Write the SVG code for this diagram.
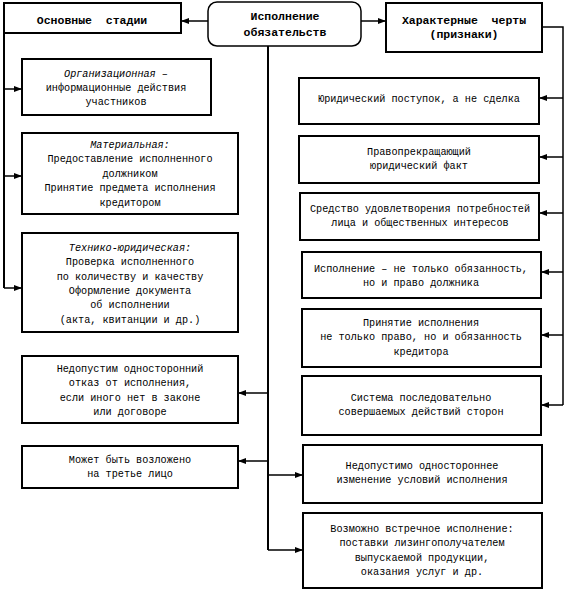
<svg xmlns="http://www.w3.org/2000/svg" width="567" height="592" viewBox="0 0 567 592">
<defs>
<marker id="ah" viewBox="0 0 8 6" refX="8" refY="3" markerWidth="8" markerHeight="6" markerUnits="userSpaceOnUse" orient="auto"><path d="M0,0 L8,3 L0,6 Z" fill="#000"/></marker>
</defs>
<style>
.b{fill:#fff;stroke:#000;stroke-width:2}
.t{font-family:"Liberation Mono","Courier New",monospace;font-size:10.2px;text-anchor:middle;fill:#000}
.h{font-family:"Liberation Mono","Courier New",monospace;font-size:11.5px;font-weight:bold;text-anchor:middle;fill:#000}
.i{font-style:italic}
.c{fill:none;stroke:#000;stroke-width:2}
.a{fill:none;stroke:#000;stroke-width:1.5;marker-end:url(#ah)}
</style>
<rect width="567" height="592" fill="#fff"/>
<g id="connectors">
<path class="a" d="M208,21 H181"/>
<path class="a" d="M361,21 H386"/>
<path class="c" d="M4,33 V288"/>
<path class="a" d="M4,89 H22"/>
<path class="a" d="M4,176 H22"/>
<path class="a" d="M4,288 H22"/>
<path class="c" d="M268,46 V550"/>
<path class="a" d="M268,393 H238"/>
<path class="a" d="M268,461 H238"/>
<path class="a" d="M268,475 H303"/>
<path class="a" d="M268,550 H303"/>
<path class="c" style="stroke-width:1.5" d="M542,27 H563 V405"/>
<path class="a" d="M563,98 H539"/>
<path class="a" d="M563,157 H539"/>
<path class="a" d="M563,213 H539"/>
<path class="a" d="M563,272 H541"/>
<path class="a" d="M563,335 H541"/>
<path class="a" d="M563,405 H541"/>
</g>
<g id="stages">
<rect class="b" x="4" y="3" width="177" height="30"/>
<text class="h" x="92" y="24">Основные&#160; стадии</text>
</g>
<g id="center">
<rect class="b" style="stroke-width:1.5" x="208" y="2" width="153" height="44" rx="9"/>
<text class="h" x="285" y="20">Исполнение</text>
<text class="h" x="285" y="36">обязательств</text>
</g>
<g id="features">
<rect class="b" x="386" y="3" width="156" height="49"/>
<text class="h" x="464" y="24">Характерные&#160; черты</text>
<text class="h" x="464" y="38">(признаки)</text>
</g>
<g id="s1">
<rect class="b" x="22" y="59" width="189" height="56"/>
<text class="t" x="116" y="76.5"><tspan class="i">Организационная</tspan> –</text>
<text class="t" x="116" y="90.5">информационные действия</text>
<text class="t" x="116" y="104.5">участников</text>
</g>
<g id="s2">
<rect class="b" x="22" y="133" width="216" height="81"/>
<text class="t i" x="130" y="147.5">Материальная:</text>
<text class="t" x="130" y="162">Предоставление исполненного</text>
<text class="t" x="130" y="176.5">должником</text>
<text class="t" x="130" y="191">Принятие предмета исполнения</text>
<text class="t" x="130" y="205.5">кредитором</text>
</g>
<g id="s3">
<rect class="b" x="22" y="233" width="216" height="99"/>
<text class="t i" x="130" y="250.5">Технико-юридическая:</text>
<text class="t" x="130" y="265">Проверка исполненного</text>
<text class="t" x="130" y="279.5">по количеству и качеству</text>
<text class="t" x="130" y="293.5">Оформление документа</text>
<text class="t" x="130" y="308">об исполнении</text>
<text class="t" x="130" y="322.5">(акта, квитанции и др.)</text>
</g>
<g id="l1">
<rect class="b" x="22" y="356" width="216" height="67"/>
<text class="t" x="130" y="371.5">Недопустим односторонний</text>
<text class="t" x="130" y="386">отказ от исполнения,</text>
<text class="t" x="130" y="400.5">если иного нет в законе</text>
<text class="t" x="130" y="415">или договоре</text>
</g>
<g id="l2">
<rect class="b" x="22" y="446" width="216" height="42"/>
<text class="t" x="130" y="462.5">Может быть возложено</text>
<text class="t" x="130" y="476.5">на третье лицо</text>
</g>
<g id="r1">
<rect class="b" x="299" y="78" width="240" height="46"/>
<text class="t" x="419" y="101.5">Юридический поступок, а не сделка</text>
</g>
<g id="r2">
<rect class="b" x="299" y="136" width="240" height="47"/>
<text class="t" x="419" y="154.5">Правопрекращающий</text>
<text class="t" x="419" y="168.5">юридический факт</text>
</g>
<g id="r3">
<rect class="b" x="300" y="193" width="239" height="47"/>
<text class="t" x="420" y="211.5">Средство удовлетворения потребностей</text>
<text class="t" x="420" y="226">лица и общественных интересов</text>
</g>
<g id="r4">
<rect class="b" x="302" y="252" width="239" height="46"/>
<text class="t" x="421" y="271.5">Исполнение – не только обязанность,</text>
<text class="t" x="421" y="286">но и право должника</text>
</g>
<g id="r5">
<rect class="b" x="302" y="309" width="239" height="58"/>
<text class="t" x="421" y="325.5">Принятие исполнения</text>
<text class="t" x="421" y="340">не только право, но и обязанность</text>
<text class="t" x="421" y="354.5">кредитора</text>
</g>
<g id="r6">
<rect class="b" x="302" y="376" width="239" height="59"/>
<text class="t" x="421" y="400.5">Система последовательно</text>
<text class="t" x="421" y="415">совершаемых действий сторон</text>
</g>
<g id="r7">
<rect class="b" x="303" y="445" width="239" height="58"/>
<text class="t" x="422" y="468.5">Недопустимо одностороннее</text>
<text class="t" x="422" y="483">изменение условий исполнения</text>
</g>
<g id="r8">
<rect class="b" x="303" y="513" width="239" height="75"/>
<text class="t" x="422" y="531.5">Возможно встречное исполнение:</text>
<text class="t" x="422" y="546">поставки лизингополучателем</text>
<text class="t" x="422" y="560.5">выпускаемой продукции,</text>
<text class="t" x="422" y="575">оказания услуг и др.</text>
</g>
</svg>
